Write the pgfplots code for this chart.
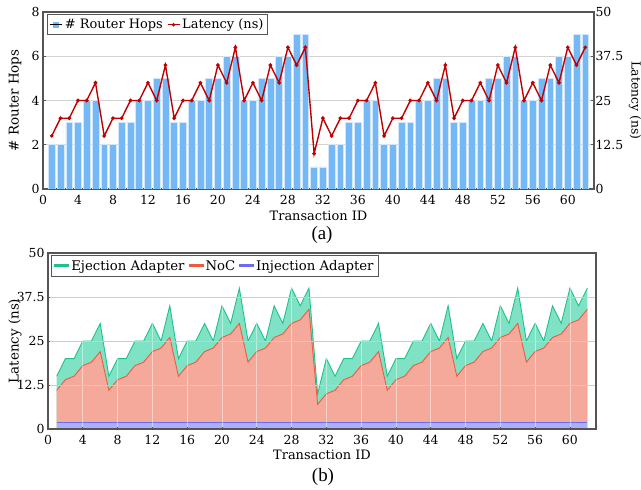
\documentclass[border=0pt]{standalone}
\usepackage{fontspec}
\setmainfont{DejaVu Serif}
\newfontfamily\capfont{Liberation Serif}
\usepackage{pgfplots}
\usepackage{pgfplotstable}
\pgfplotsset{compat=1.18}
\definecolor{barblue}{HTML}{74B9F5}
\definecolor{baredge}{HTML}{D2E7FB}
\definecolor{latred}{HTML}{C00000}
\definecolor{ejline}{HTML}{1DC28C}
\definecolor{ejfill}{HTML}{80E2C5}
\definecolor{nocline}{HTML}{EE5A40}
\definecolor{nocfill}{HTML}{F5A99B}
\definecolor{injline}{HTML}{6C6CF0}
\definecolor{injfill}{HTML}{AAB0FA}
\definecolor{frame}{HTML}{555555}
\pgfplotsset{
  common/.style={
    scale only axis,
    xmin=0, xmax=63,
    /pgf/number format/assume math mode=true,
    tick label style={font=\fontsize{12.5}{14}\selectfont},
    xticklabel style={yshift=-3bp},
    label style={font=\fontsize{13}{15}\selectfont},
    axis line style={frame, line width=1.1pt},
    tick style={frame, line width=0.6pt},
    major tick length=2.5bp,
    legend style={font=\fontsize{13}{15}\selectfont, draw=frame, line width=1pt,
      inner sep=2.5pt, /tikz/every even column/.append style={column sep=2bp}},
  },
}
\pgfplotstableread{
x hops lat noc
1 2 15 11
2 2 20 14
3 3 20 15
4 3 25 18
5 4 25 19
6 4 30 22
7 2 15 11
8 2 20 14
9 3 20 15
10 3 25 18
11 4 25 19
12 4 30 22
13 5 25 23
14 5 35 26
15 3 20 15
16 3 25 18
17 4 25 19
18 4 30 22
19 5 25 23
20 5 35 26
21 6 30 27
22 6 40 30
23 4 25 19
24 4 30 22
25 5 25 23
26 5 35 26
27 6 30 27
28 6 40 30
29 7 35 31
30 7 40 34
31 1 10 7
32 1 20 10
33 2 15 11
34 2 20 14
35 3 20 15
36 3 25 18
37 4 25 19
38 4 30 22
39 2 15 11
40 2 20 14
41 3 20 15
42 3 25 18
43 4 25 19
44 4 30 22
45 5 25 23
46 5 35 26
47 3 20 15
48 3 25 18
49 4 25 19
50 4 30 22
51 5 25 23
52 5 35 26
53 6 30 27
54 6 40 30
55 4 25 19
56 4 30 22
57 5 25 23
58 5 35 26
59 6 30 27
60 6 40 30
61 7 35 31
62 7 40 34
}\data
\begin{document}
\begin{tikzpicture}
\path[use as bounding box] (0bp,0bp) rectangle (641bp,-490bp);
% ---------- (a) ----------
\begin{axis}[common,
  at={(43bp,-12bp)}, anchor=north west, width=551bp, height=177bp,
  ymin=0, ymax=8,
  xtick={0,4,...,60}, ytick={0,2,...,8},
  ytick pos=left, xtick pos=bottom,
  ymajorgrids, grid style={gray!35, line width=0.6pt},
  ylabel={\# Router Hops}, xlabel={Transaction ID},
  ylabel style={at={(axis description cs:-0.0508,0.5)}, anchor=center, font=\fontsize{13.5}{15}\selectfont},
  xlabel style={yshift=1bp},
]
\addplot[ybar, bar width=0.78, fill=barblue, draw=baredge, line width=0.6pt] table[x=x,y=hops]{\data};
\end{axis}
\begin{axis}[common,
  at={(43bp,-12bp)}, anchor=north west, width=551bp, height=177bp,
  ymin=0, ymax=50,
  axis x line=none, axis y line*=right,
  ytick={0,12.5,25,37.5,50},
  yticklabel style={xshift=-2bp},
  ylabel={Latency (ns)}, ylabel style={rotate=180, at={(axis description cs:1.0745,0.5)}, anchor=center, font=\fontsize{12.5}{14}\selectfont},
  legend columns=2,
  legend style={at={(0.007,0.988)}, anchor=north west},
]
\addlegendimage{legend image code/.code={\fill[barblue] (3bp,-2.5bp) rectangle (8bp,2.5bp); \path (0bp,0bp) -- (12bp,0bp);}}
\addlegendimage{legend image code/.code={\draw[latred, line width=1.3pt] (0bp,0bp) -- (12bp,0bp); \fill[latred] (6bp,0bp) circle (1.2pt);}}
\addplot[latred, line width=1.4pt, mark=*, mark size=1.1pt, forget plot] table[x=x,y=lat]{\data};
\legend{\# Router Hops, Latency (ns)}
\end{axis}
\node[font=\capfont\fontsize{19}{21}\selectfont] at (322bp,-235bp) {(a)};
% ---------- (b) ----------
\begin{axis}[common,
  at={(48bp,-253bp)}, anchor=north west, width=548bp, height=176bp,
  ymin=0, ymax=50,
  xtick={0,4,...,60}, ytick={0,12.5,25,37.5,50},
  xtick pos=bottom, ytick pos=left,
  axis on top,
  xmajorgrids, ymajorgrids,
  x grid style={white, opacity=0.45, line width=0.6pt},
  y grid style={gray!40, line width=0.6pt},
  ylabel={Latency (ns)}, xlabel={Transaction ID},
  ylabel style={at={(axis description cs:-0.0602,0.5)}, anchor=center, font=\fontsize{13.5}{15}\selectfont},
  xlabel style={yshift=2bp},
  legend columns=3,
  legend style={at={(0.006,0.988)}, anchor=north west, font=\fontsize{13.3}{15}\selectfont},
]
\addlegendimage{legend image code/.code={\fill[ejline] (0bp,-0.9bp) rectangle (14bp,0.9bp);}}
\addlegendimage{legend image code/.code={\fill[nocline] (0bp,-0.9bp) rectangle (14bp,0.9bp);}}
\addlegendimage{legend image code/.code={\fill[injline] (0bp,-0.9bp) rectangle (14bp,0.9bp);}}
\addplot[fill=ejfill, draw=none, forget plot] table[x=x,y=lat]{\data} \closedcycle;
\addplot[fill=nocfill, draw=none, forget plot] table[x=x,y=noc]{\data} \closedcycle;
\addplot[fill=injfill, draw=none, forget plot] coordinates {(1,2) (62,2)} \closedcycle;
\addplot[ejline, line width=0.9pt, no marks, forget plot] table[x=x,y=lat]{\data};
\addplot[nocline, line width=0.9pt, no marks, forget plot] table[x=x,y=noc]{\data};
\addplot[injline, line width=0.9pt, no marks, forget plot] coordinates {(1,2) (62,2)};
\legend{Ejection Adapter, NoC, Injection Adapter}
\end{axis}
\node[font=\capfont\fontsize{19}{21}\selectfont] at (323bp,-477bp) {(b)};
\end{tikzpicture}
\end{document}
